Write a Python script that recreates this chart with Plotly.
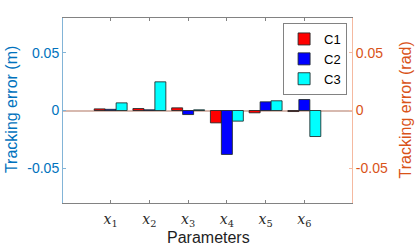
import plotly.graph_objects as go

params = [1, 2, 3, 4, 5, 6]
tick_labels = ["<i>x</i><sub>1</sub>", "<i>x</i><sub>2</sub>", "<i>x</i><sub>3</sub>",
               "<i>x</i><sub>4</sub>", "<i>x</i><sub>5</sub>", "<i>x</i><sub>6</sub>"]
c1 = [0.0014, 0.0017, 0.0023, -0.0107, -0.0020, -0.0009]
c2 = [0.0010, 0.0006, -0.0035, -0.0380, 0.0075, 0.0095]
c3 = [0.0066, 0.0248, 0.0006, -0.0092, 0.0084, -0.0225]
series = [("C1", c1, "rgb(255,0,0)"), ("C2", c2, "rgb(0,0,255)"), ("C3", c3, "rgb(0,255,255)")]
y_ticks = [-0.05, 0, 0.05]
y_tick_text = ["-0.05", "0", "0.05"]

blue = "rgb(0,114,189)"
orange = "rgb(217,83,25)"
font = "Liberation Sans, Arial, sans-serif"

fig = go.Figure()
for name, vals, col in series:
    fig.add_trace(go.Bar(x=params, y=vals, name=name, marker_color=col,
                         marker_line=dict(color="rgba(30,40,40,0.85)", width=1)))
fig.add_trace(go.Scatter(x=[params[0]], y=[0], yaxis="y2", mode="markers",
                         marker=dict(opacity=0), showlegend=False, hoverinfo="skip"))

fig.update_layout(
    width=415, height=249,
    margin=dict(l=63, r=63, t=18, b=46),
    paper_bgcolor="white", plot_bgcolor="white",
    barmode="group", bargap=0.15, bargroupgap=0,
    font=dict(family=font, size=13, color="black"),
    xaxis=dict(range=[-0.23, 7.23], tickvals=params, ticktext=tick_labels,
               tickfont=dict(family="DejaVu Serif, serif", size=14, color="rgb(40,40,40)"),
               ticks="inside", ticklen=3, tickcolor="rgb(130,130,130)", ticklabelstandoff=3,
               showline=True, linecolor="rgb(130,130,130)", linewidth=1, mirror="ticks",
               showgrid=False, zeroline=False, automargin=False),
    yaxis=dict(range=[-0.08, 0.08], tickvals=y_ticks, ticktext=y_tick_text,
               tickfont=dict(size=14, color=blue), ticks="inside", ticklen=3,
               tickcolor="rgb(130,180,215)", showline=True, linecolor="rgb(130,180,215)",
               linewidth=1, showgrid=False, zeroline=True, zerolinecolor="rgb(215,185,175)",
               zerolinewidth=2, automargin=False),
    yaxis2=dict(range=[-0.08, 0.08], tickvals=y_ticks, ticktext=y_tick_text,
                overlaying="y", side="right", anchor="x",
                tickfont=dict(size=14, color=orange), ticks="inside", ticklen=3,
                tickcolor="rgb(245,185,160)", showline=True, linecolor="rgb(245,185,160)",
                linewidth=1, showgrid=False, zeroline=False, automargin=False),
    legend=dict(x=0.983, y=0.973, xanchor="right", yanchor="top",
                bgcolor="white", bordercolor="rgb(130,130,130)", borderwidth=1,
                font=dict(size=13), tracegroupgap=0, itemwidth=30),
    annotations=[
        dict(text="Tracking error (m)", xref="paper", yref="paper", x=-0.176, y=0.503,
             textangle=-90, showarrow=False, font=dict(size=16, color=blue),
             xanchor="center", yanchor="middle"),
        dict(text="Tracking error (rad)", xref="paper", yref="paper", x=1.185, y=0.503,
             textangle=-90, showarrow=False, font=dict(size=16, color=orange),
             xanchor="center", yanchor="middle"),
        dict(text="Parameters", xref="paper", yref="paper", x=0.502, y=-0.189,
             showarrow=False, font=dict(size=16, color="rgb(30,30,30)"),
             xanchor="center", yanchor="middle"),
    ],
)

fig.write_html("out.html", config={"displayModeBar": False},
               post_script="document.body.style.margin='0';document.body.style.overflow='hidden';")
